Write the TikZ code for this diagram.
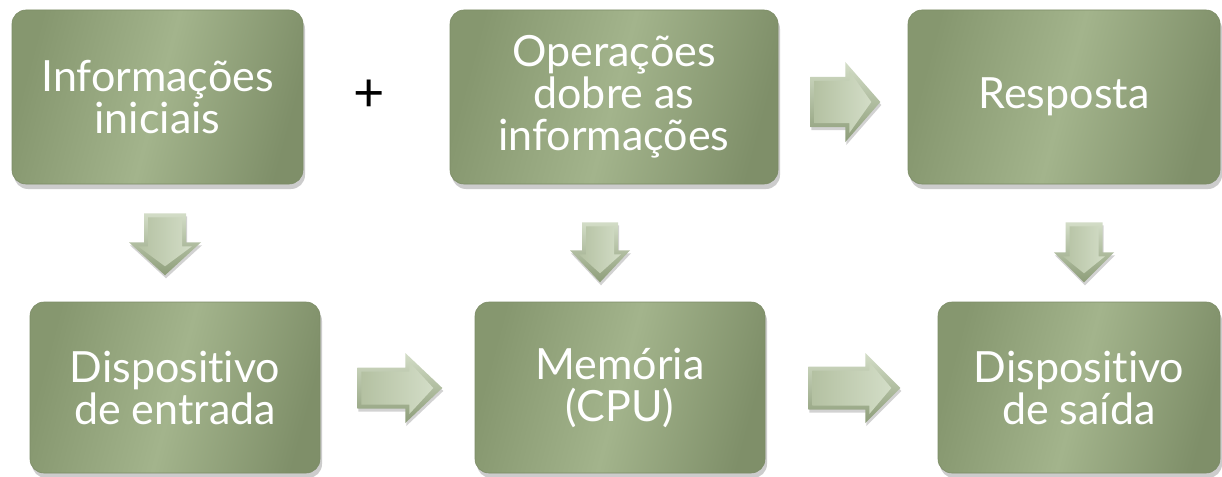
\documentclass[tikz,border=0pt]{standalone}
\usepackage{fontspec}
\setmainfont[Ligatures=NoCommon]{Lato}
\usetikzlibrary{shadows,calc}
\definecolor{boxdark}{HTML}{86976F}
\definecolor{boxlight}{HTML}{A3B48C}
\definecolor{boxedge}{HTML}{7C8C66}
\definecolor{arrlight}{HTML}{D3DDC7}
\definecolor{arrmid}{HTML}{B4C1A2}
\definecolor{arrdark}{HTML}{8D9D79}
\tikzset{
  box/.style={rounded corners=14pt, draw=boxedge, line width=0.6pt,
    left color=boxdark, right color=boxdark!95!black, middle color=boxlight,
    shading angle=75, text=white, align=center,
    font=\fontsize{43}{42}\selectfont, inner sep=0pt,
    drop shadow={shadow xshift=2pt, shadow yshift=-5pt, opacity=0.4}},
  pics/blockarrow/.style n args={4}{code={
    \path[top color=arrlight, bottom color=arrdark,
      drop shadow={shadow xshift=1pt, shadow yshift=-3pt, opacity=0.35}]
      (0,-#3) -- (#1,-#3) -- (#1,-#4) -- ({#1+#2},0) -- (#1,#4) -- (#1,#3) -- (0,#3) -- cycle;
    \path[left color=arrmid, right color=arrlight]
      (4,{-#3+4}) -- ({#1+4},{-#3+4}) -- ({#1+4},{-#4+9}) -- ({#1+#2-9},0)
      -- ({#1+4},{#4-9}) -- ({#1+4},{#3-4}) -- (4,{#3-4}) -- cycle;
  }}
}
\begin{document}
\begin{tikzpicture}[x=1pt,y=-1pt]
\fill[white] (0,0) rectangle (1222,476);
\useasboundingbox (0,0) rectangle (1222,476);
\node[box, minimum width=291pt, minimum height=174pt] (b1) at (157.5,97) {Informações\\iniciais};
\node[box, minimum width=328pt, minimum height=174pt] (b2) at (614,97) {Operações\\dobre as\\informações};
\node[box, minimum width=312pt, minimum height=174pt] (b3) at (1064,97) {Resposta};
\node[box, minimum width=290pt, minimum height=171pt] (b4) at (175,387.5) {Dispositivo\\de entrada};
\node[box, minimum width=290pt, minimum height=171pt] (b5) at (620,387.5) {Memória\\(CPU)};
\node[box, minimum width=282pt, minimum height=171pt] (b6) at (1079,387.5) {Dispositivo\\de saída};
\node[font=\fontsize{54}{54}\selectfont, text=black, inner sep=0pt] (plus) at (369,96) {+};
\coordinate (t1) at ($(b2.east)+(32,5)$);
\coordinate (t2) at ($(b4.east)+(37,0.5)$);
\coordinate (t3) at ($(b5.east)+(43,0.5)$);
\coordinate (d1) at ($(b1.south)+(7.5,29)$);
\coordinate (d2) at ($(b2.south)+(-14,38)$);
\coordinate (d3) at ($(b3.south)+(20,38)$);
\pic at (t1) {blockarrow={35}{35}{25}{40}};
\pic at (t2) {blockarrow={48}{37}{20.5}{35}};
\pic at (t3) {blockarrow={57}{35}{21.5}{35}};
\pic[rotate=-90] at (d1) {blockarrow={29}{33}{21}{36}};
\pic[rotate=-90] at (d2) {blockarrow={28}{32}{18}{30}};
\pic[rotate=-90] at (d3) {blockarrow={30}{30}{18.5}{30}};
\end{tikzpicture}
\end{document}
